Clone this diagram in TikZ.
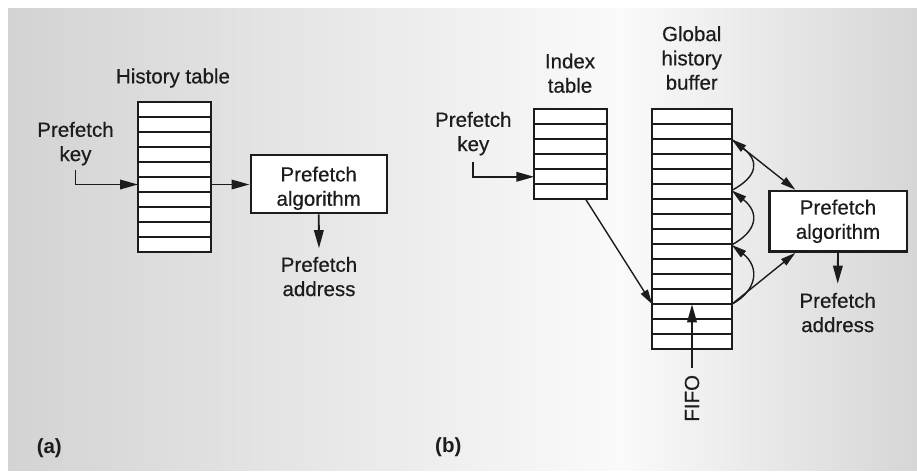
\documentclass[tikz,border=0pt]{standalone}
\usepackage{fontspec}
\setmainfont{Liberation Sans}[BoldFont=Liberation Sans, BoldFeatures={FakeBold=0.45}]
\newfontfamily\tagfont{Liberation Sans Bold}
\usetikzlibrary{arrows.meta,calc}
\definecolor{ink}{HTML}{1C1C1C}
\definecolor{bgL}{HTML}{D3D3D3}
\definecolor{bgM}{HTML}{FAFAFA}
\definecolor{bgR}{HTML}{D6D6D6}
\begin{document}
\begin{tikzpicture}[x=1pt,y=-1pt,
  every node/.style={text=ink},
  lbl/.style={font=\fontsize{20.5}{24.3}\selectfont\bfseries, align=center, inner sep=0pt},
  tag/.style={font=\fontsize{20.5}{24.3}\selectfont\tagfont, inner sep=0pt},
  cell/.style={draw=ink, fill=white, line width=2.1pt, minimum height=15pt, inner sep=0pt, outer sep=0pt},
  algbox/.style={draw=ink, fill=white, line width=2.4pt, font=\fontsize{20.5}{24.3}\selectfont\bfseries, align=center, inner sep=0pt},
  arr/.style={draw=ink, line width=1.9pt, -{Triangle[length=18pt,width=9.5pt]}},
  tarr/.style={draw=ink, line width=1.4pt, -{Triangle[length=15pt,width=8pt]}}]

% backdrop
\useasboundingbox (0,0) rectangle (917,471);
\fill[white] (0,0) rectangle (917,471);
\shade[left color=bgL, right color=bgM] (8,8) rectangle (620,470);
\shade[left color=bgM, right color=bgR] (620,8) rectangle (917,470);

% ---------- (a) ----------
\node[lbl, anchor=north] (histlbl) at (173,68.3) {History table};
\foreach \i in {1,...,10}
  \node[cell, minimum width=73pt] (h\i) at (174.5,94.5+15*\i) {};
\node[lbl, anchor=north] (keyA) at (75.5,121.7) {Prefetch\\key};
\node[algbox, minimum width=136pt, minimum height=58pt] (pa) at (318.7,184.2)
  {\rule{0pt}{23pt}Prefetch\\algorithm};
\node[lbl, anchor=north] (addrA) at (319,256.7) {Prefetch\\address};
\node[tag] (taga) at (49.3,448.3) {(a)};

\draw[arr] ([yshift=-4pt]keyA.south) |- (h6.west);
\draw[arr] (h6.east) -- (h6.east -| pa.west);
\draw[arr] (pa.south) -- ([yshift=8.5pt]addrA.north);

% ---------- (b) ----------
\node[lbl, anchor=north] (idxlbl) at (570,53.3) {Index\\table};
\node[lbl, anchor=north] (ghblbl) at (691.7,26) {Global\\history\\buffer};
\foreach \i in {1,...,6}
  \node[cell, minimum width=72.4pt] (i\i) at (570.5,101.8+15*\i) {};
\foreach \i in {1,...,16}
  \node[cell, minimum width=79.4pt] (g\i) at (692,101.8+15*\i) {};
\node[lbl, anchor=north] (keyB) at (473.3,111.7) {Prefetch\\key};
\node[algbox, minimum width=137.4pt, minimum height=60.7pt] (pb) at (838,221.3)
  {Prefetch\\algorithm};
\node[lbl, anchor=north] (addrB) at (837.7,292.7) {Prefetch\\address};
\node[lbl, rotate=90] (fifo) at (692,398.3) {FIFO};
\node[tag] (tagb) at (448.3,446.7) {(b)};

\draw[arr] ([yshift=-6pt]keyB.south) |- (i5.west);
\draw[tarr] ($(i6.south west)!0.71!(i6.south east)$) -- (g13.south west);
\draw[arr] ([yshift=7pt]fifo.east) -- (g13.south);

% links running up the history buffer
\coordinate (j1) at (g13.south east);
\coordinate (j4) at (g2.south east);
\coordinate (j2) at ($(j1)!0.36!(j4)$);
\coordinate (j3) at ($(j1)!0.69!(j4)$);
\draw[tarr] (j1) .. controls +(26,-14) and +(28,22) .. (j2);
\draw[tarr] (j2) .. controls +(26,-14) and +(28,22) .. (j3);
\draw[tarr] (j3) .. controls +(26,-14) and +(28,22) .. (j4);

\draw[tarr] (j4) -- ($(pb.north west)!0.195!(pb.north east)$);
\draw[tarr] (j1) -- ($(pb.south west)!0.195!(pb.south east)$);
\draw[arr] (pb.south) -- ([yshift=9pt]addrB.north);
\end{tikzpicture}
\end{document}
